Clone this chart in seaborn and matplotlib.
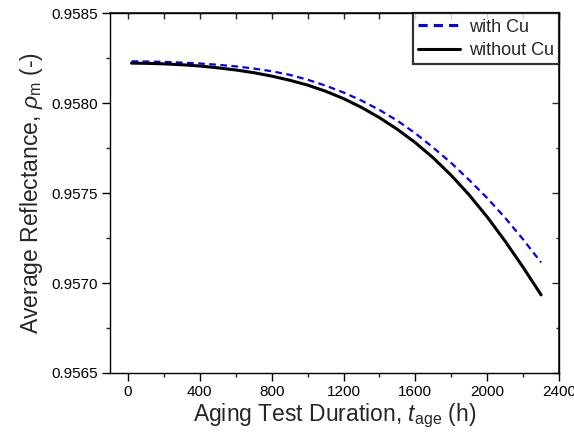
import numpy as np
import pandas as pd
import seaborn as sns
import matplotlib.pyplot as plt
from matplotlib.ticker import MultipleLocator

# aging hours and average reflectance
hours = [20, 100, 200, 300, 400, 500, 600, 700, 800, 900, 1000, 1100,
         1200, 1300, 1400, 1500, 1600, 1700, 1800, 1900, 2000, 2100, 2200, 2300]
rho_with_cu = [0.958232, 0.958231, 0.958229, 0.958225, 0.958220, 0.958213,
               0.958204, 0.958192, 0.958177, 0.958157, 0.958130, 0.958097,
               0.958059, 0.958014, 0.957962, 0.957902, 0.957832, 0.957752,
               0.957667, 0.957572, 0.957472, 0.957362, 0.957242, 0.957114]
rho_without_cu = [0.958222, 0.958221, 0.958218, 0.958213, 0.958206, 0.958196,
                  0.958184, 0.958169, 0.958150, 0.958127, 0.958100, 0.958066,
                  0.958025, 0.957976, 0.957919, 0.957854, 0.957780, 0.957695,
                  0.957598, 0.957489, 0.957367, 0.957232, 0.957087, 0.956934]
series_names = ["with Cu", "without Cu"]

df = pd.concat([
    pd.DataFrame({"t": hours, "rho": rho_with_cu, "case": series_names[0]}),
    pd.DataFrame({"t": hours, "rho": rho_without_cu, "case": series_names[1]}),
])

sns.set_theme(style="ticks")
plt.rcParams["font.family"] = ["Liberation Sans", "DejaVu Sans"]
plt.rcParams["mathtext.fontset"] = "custom"
plt.rcParams["mathtext.rm"] = "Liberation Sans"
plt.rcParams["mathtext.it"] = "Liberation Sans:italic"

fig = plt.figure(figsize=(5.74, 4.37), dpi=100)
ax = fig.add_axes([0.1916, 0.1465, 0.7824, 0.8235])

sns.lineplot(data=df, x="t", y="rho", hue="case", style="case",
             palette={"with Cu": "#0000ff", "without Cu": "black"},
             dashes={"with Cu": (3, 2), "without Cu": ""},
             ax=ax, estimator=None)
for ln in ax.lines:
    if ln.get_color() == "#0000ff":
        ln.set_linewidth(1.6)
    else:
        ln.set_linewidth(2.2)

ax.set_xlim(-100, 2400)
ax.set_ylim(0.9565, 0.9585)
ax.xaxis.set_major_locator(MultipleLocator(400))
ax.xaxis.set_minor_locator(MultipleLocator(200))
ax.yaxis.set_major_locator(MultipleLocator(0.0005))
ax.yaxis.set_minor_locator(MultipleLocator(0.00025))
ax.yaxis.set_major_formatter(plt.FormatStrFormatter("%.4f"))

ax.tick_params(which="major", direction="out", length=5.5, width=1, labelsize=11,
               colors="black", pad=3)
ax.tick_params(which="minor", direction="out", length=3, width=1)

for s in ax.spines.values():
    s.set_visible(True)
    s.set_linewidth(1.0)
    s.set_color("black")

# mirrored ticks on top and right, pointing in
top = ax.secondary_xaxis("top")
top.xaxis.set_major_locator(MultipleLocator(400))
top.xaxis.set_minor_locator(MultipleLocator(200))
top.tick_params(which="both", direction="in", length=4.5, width=1, labeltop=False)
right = ax.secondary_yaxis("right")
right.yaxis.set_major_locator(MultipleLocator(0.0005))
right.yaxis.set_minor_locator(MultipleLocator(0.00025))
right.tick_params(which="major", direction="in", length=5, width=1, labelright=False)
right.tick_params(which="minor", direction="in", length=2.5, width=1)

ax.set_xlabel("Aging Test Duration, $\\mathit{t}_\\mathrm{age}$ (h)", fontsize=16.5, labelpad=2)
ax.set_ylabel("Average Reflectance, $\\mathit{\\rho}_\\mathrm{m}$ (-)", fontsize=16.5, labelpad=5)

leg = ax.legend(loc="upper right", fontsize=13, frameon=True, fancybox=False,
                borderaxespad=0, handlelength=2.3, handletextpad=0.5,
                borderpad=0.3, labelspacing=0.35, title=None)
leg.get_frame().set_edgecolor("black")
leg.get_frame().set_linewidth(1.6)
for h in leg.get_lines():
    h.set_linewidth(2.2)

fig.savefig("out.png", dpi=100, facecolor="white")
